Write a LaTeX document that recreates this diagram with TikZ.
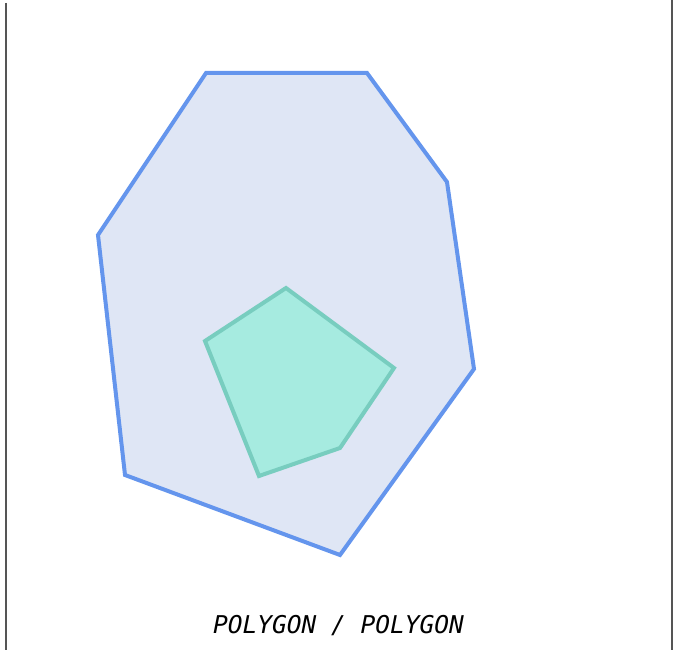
\documentclass[tikz,border=0pt]{standalone}
\usepackage{fontspec}
\newfontfamily\labelfont{DejaVu Sans Mono}
\definecolor{outerfill}{HTML}{DFE6F5}
\definecolor{outerline}{HTML}{6495ED}
\definecolor{innerfill}{HTML}{A6EBE0}
\definecolor{innerline}{HTML}{78CDBF}
\definecolor{frameline}{HTML}{555555}
\begin{document}
\begin{tikzpicture}[x=1pt,y=-1pt,
  outerpoly/.style={fill=outerfill,draw=outerline,line width=4pt,line join=miter},
  innerpoly/.style={fill=innerfill,draw=innerline,line width=4pt,line join=miter},
  frame/.style={draw=frameline,line width=1.3pt}]
\useasboundingbox (0,0) rectangle (681,650);
\draw[frame] (6,3) -- (6,650);
\draw[frame] (672,0) -- (672,650);
\draw[outerpoly] (206,73) -- (367,73) -- (447,182) -- (474,369) -- (340,555) -- (125,475) -- (98,235) -- cycle;
\draw[innerpoly] (286,288) -- (394,368) -- (340,448) -- (259,476) -- (205,341) -- cycle;
\node[font=\labelfont\itshape\fontsize{24.5}{28}\selectfont,inner sep=0pt] (lbl) at (338.5,626) {POLYGON / POLYGON};
\end{tikzpicture}
\end{document}
